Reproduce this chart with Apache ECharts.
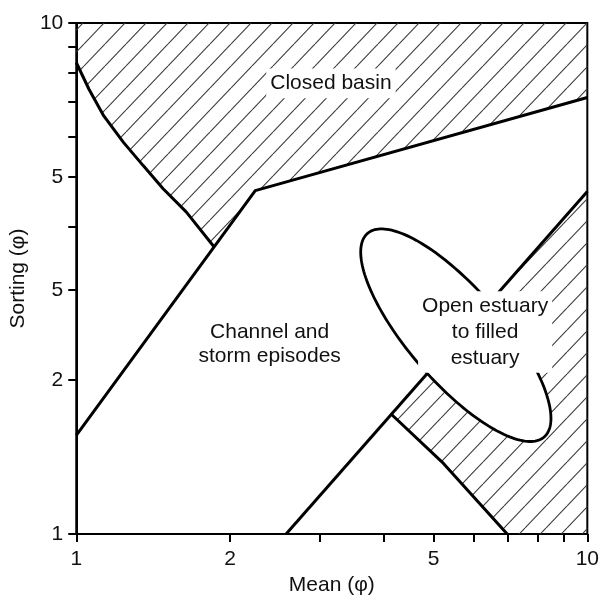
<!DOCTYPE html>
<html>
<head>
<meta charset="utf-8">
<script src="https://cdn.jsdelivr.net/npm/echarts@6/dist/echarts.min.js"></script>
<style>
html,body{margin:0;padding:0;background:#fff;}
#chart{width:602px;height:601px;}
</style>
</head>
<body>
<div id="chart"></div>
<script>
// ---- data (Mean phi on x, Sorting phi on y; both log scales) ----
const xTickValues = [1, 2, 3, 4, 5, 6, 7, 8, 9, 10];
const xLabelValues = [1, 2, 5, 10];
const xLabelTexts = ['1', '2', '5', '10'];
const yTickValues = [1, 2, 3, 4, 5, 6, 7, 8, 9, 10];
const yLabelValues = [1, 2, 3, 5, 10];
const yLabelTexts = ['1', '2', '5', '5', '10'];

const curveA = [[1, 8.37], [1.059, 7.42], [1.132, 6.58], [1.237, 5.84], [1.352, 5.26], [1.479, 4.74], [1.641, 4.27], [1.86, 3.65]];
const lineB = [[1, 1.56], [2.24, 4.70], [10, 7.15]];
const lineC = [[2.574, 1], [10, 4.68]];
const lineD = [[4.15, 1.71], [5.23, 1.375], [6.97, 1]];
const closedBasin = [[1, 10], [1, 8.37], [1.059, 7.42], [1.132, 6.58], [1.237, 5.84], [1.352, 5.26], [1.479, 4.74], [1.641, 4.27], [1.86, 3.65], [2.24, 4.70], [10, 7.15], [10, 10]];
const lowerHatch = [[4.15, 1.71], [10, 4.68], [10, 1], [6.97, 1], [5.23, 1.375]];
const ellipseCenter = [5.53, 2.45];
const ellipseMajorEnd = [8.24, 1.55];
const ellipseMinorEnd = [6.47, 2.82];

const regionLabels = ['Closed basin', 'Channel and\nstorm episodes', 'Open estuary\nto filled\nestuary'];
const regionLabelPoints = [[3.15, 7.62], [2.39, 2.35], [6.31, 2.485]];

const xName = 'Mean (\u03c6)';
const yName = 'Sorting (\u03c6)';

// ---- styles ----
const FONT = '"Liberation Sans", Arial, Helvetica, sans-serif';
function makeHatch() {
  const W = 21, H = 22;
  const c = document.createElement('canvas');
  c.width = W; c.height = H;
  const g = c.getContext('2d');
  g.strokeStyle = '#3a3a3a';
  g.lineWidth = 1.1;
  for (let k = -1; k <= 1; k++) {
    g.beginPath();
    g.moveTo(k * W, H);
    g.lineTo(k * W + W, 0);
    g.stroke();
  }
  return c;
}
const hatch = { image: makeHatch(), repeat: 'repeat' };

function polygonSeries(pts, z) {
  return {
    type: 'custom', coordinateSystem: 'cartesian2d', z: z, silent: true,
    data: [[pts[0][0], pts[0][1]]],
    renderItem: function (params, api) {
      return {
        type: 'polygon',
        shape: { points: pts.map(function (p) { return api.coord(p); }) },
        style: { fill: hatch, stroke: null }
      };
    }
  };
}
function lineSeries(pts, z) {
  return {
    type: 'line', data: pts, symbol: 'none', z: z, silent: true,
    lineStyle: { color: '#000', width: 3 }, animation: false
  };
}

const option = {
  animation: false,
  backgroundColor: '#fff',
  grid: { left: 75, top: 23, width: 518, height: 514, show: true, borderColor: '#000', borderWidth: 2 },
  xAxis: {
    type: 'log', logBase: 10, min: 1, max: 10,
    name: xName, nameLocation: 'middle', nameGap: 40,
    nameTextStyle: { fontSize: 21, color: '#111', fontFamily: FONT },
    axisLine: { lineStyle: { color: '#000', width: 2 } },
    axisTick: { show: true, customValues: xTickValues, length: 8, lineStyle: { color: '#000', width: 2 } },
    minorTick: { show: false },
    splitLine: { show: false },
    axisLabel: {
      customValues: xLabelValues, fontSize: 21, color: '#111', fontFamily: FONT, margin: 15,
      formatter: function (v) { const i = xLabelValues.findIndex(function (t) { return Math.abs(t - v) < 1e-6; }); return i >= 0 ? xLabelTexts[i] : ''; }
    }
  },
  yAxis: {
    type: 'log', logBase: 10, min: 1, max: 10,
    name: yName, nameLocation: 'middle', nameGap: 44,
    nameTextStyle: { fontSize: 21, color: '#111', fontFamily: FONT },
    axisLine: { lineStyle: { color: '#000', width: 2 } },
    axisTick: { show: true, customValues: yTickValues, length: 8, lineStyle: { color: '#000', width: 2 } },
    minorTick: { show: false },
    splitLine: { show: false },
    axisLabel: {
      customValues: yLabelValues, fontSize: 21, color: '#111', fontFamily: FONT, margin: 13,
      formatter: function (v) { const i = yLabelValues.findIndex(function (t) { return Math.abs(t - v) < 1e-6; }); return i >= 0 ? yLabelTexts[i] : ''; }
    }
  },
  series: [
    polygonSeries(closedBasin, 1),
    polygonSeries(lowerHatch, 1),
    lineSeries(curveA, 3),
    lineSeries(lineB, 3),
    lineSeries(lineC, 3),
    lineSeries(lineD, 3),
    {
      type: 'custom', coordinateSystem: 'cartesian2d', z: 5, silent: true,
      data: [ellipseCenter],
      renderItem: function (params, api) {
        const c = api.coord(ellipseCenter);
        const m = api.coord(ellipseMajorEnd);
        const n = api.coord(ellipseMinorEnd);
        const ux = m[0] - c[0], uy = m[1] - c[1];
        const vx = n[0] - c[0], vy = n[1] - c[1];
        const pts = [];
        for (let k = 0; k < 180; k++) {
          const t = k / 180 * Math.PI * 2;
          pts.push([c[0] + ux * Math.cos(t) + vx * Math.sin(t), c[1] + uy * Math.cos(t) + vy * Math.sin(t)]);
        }
        return { type: 'polygon', shape: { points: pts }, style: { fill: '#fff', stroke: '#000', lineWidth: 2.8 } };
      }
    },
    {
      type: 'custom', coordinateSystem: 'cartesian2d', z: 8, silent: true,
      data: regionLabelPoints,
      renderItem: function (params, api) {
        const i = params.dataIndex;
        const p = api.coord(regionLabelPoints[i]);
        const withBg = i !== 1;
        return {
          type: 'text', x: p[0], y: p[1],
          style: {
            text: regionLabels[i], fill: '#111', fontSize: 21, fontFamily: FONT,
            align: 'center', verticalAlign: 'middle', lineHeight: i === 1 ? 24.5 : 25.8,
            backgroundColor: withBg ? '#fff' : null, padding: withBg ? [2, 4] : 0
          }
        };
      }
    }
  ]
};

const chart = echarts.init(document.getElementById('chart'), null, { renderer: 'canvas' });
chart.setOption(option);
</script>
</body>
</html>
